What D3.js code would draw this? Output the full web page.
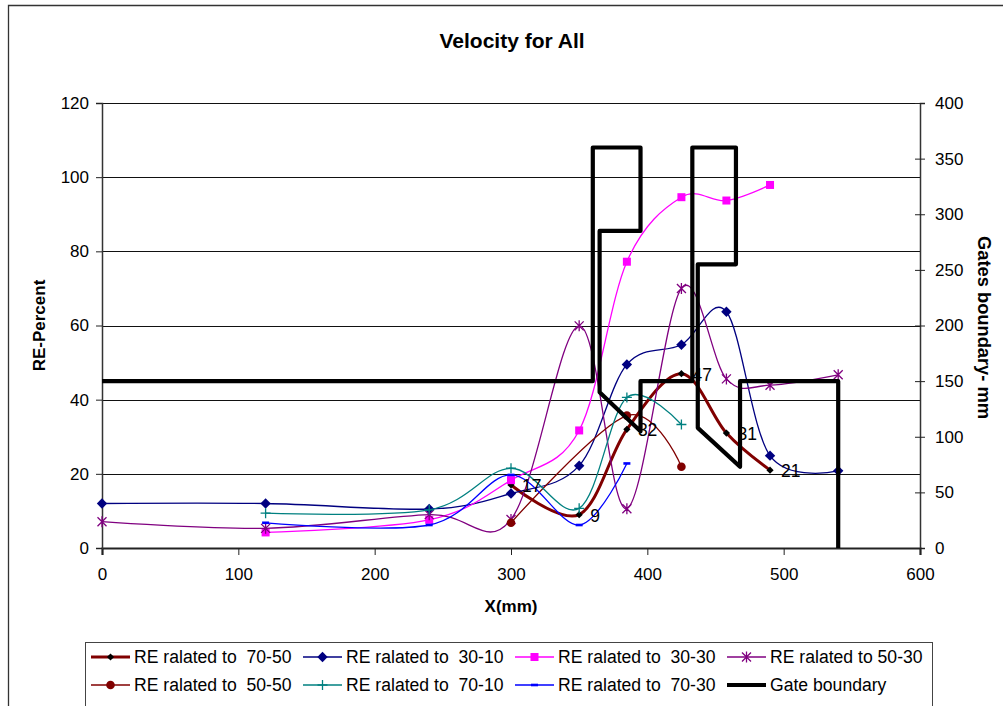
<!DOCTYPE html>
<html>
<head>
<meta charset="utf-8">
<script src="https://cdn.jsdelivr.net/npm/d3@7"></script>
<style>
  html, body { margin: 0; padding: 0; background: #fff; }
  svg { display: block; font-family: "Liberation Sans", Arial, sans-serif; }
  text { white-space: pre; }
</style>
</head>
<body>
<svg id="chart" width="1003" height="706"></svg>
<script>
// ---- data ----
const x7050 = [300, 350, 385, 425, 458, 490];
const re7050 = [17, 9, 32, 47, 31, 21];

const x3010 = [0, 120, 240, 300, 350, 385, 425, 458, 490, 540];
const re3010 = [12, 12, 10.5, 14.7, 22.2, 49.5, 54.8, 63.7, 24.9, 20.8];

const x3030 = [120, 240, 300, 350, 385, 425, 458, 490];
const re3030 = [4.2, 7.6, 18.3, 31.7, 77.2, 94.6, 93.7, 97.9];

const x5030 = [0, 120, 240, 300, 350, 385, 425, 458, 490, 540];
const re5030 = [7.1, 5.3, 9, 7.7, 59.9, 10.6, 70, 45.6, 43.9, 46.7];

const x5050 = [300, 385, 425];
const re5050 = [6.8, 35.7, 21.9];

const x7010 = [120, 240, 300, 350, 385, 425];
const re7010 = [9.4, 10.3, 21.5, 10.7, 40.6, 33.3];

const x7030 = [120, 240, 300, 350, 385];
const re7030 = [6.8, 6.2, 19.7, 6.2, 22.8];

// gate outline, secondary axis (mm)
const gateX = [0, 360, 360, 395, 395, 365, 365, 395, 395, 433, 433, 465, 465, 437, 437, 468, 468, 540, 540];
const gateY = [150, 150, 360, 360, 285, 285, 140, 105, 150, 150, 360, 360, 255, 255, 108, 73, 150, 150, 0];

const xTicks = [0, 100, 200, 300, 400, 500, 600];
const yTicks = [0, 20, 40, 60, 80, 100, 120];
const y2Ticks = [0, 50, 100, 150, 200, 250, 300, 350, 400];

const seriesNames = ["RE ralated to  70-50", "RE ralated to  30-10", "RE ralated to  30-30", "RE ralated to 50-30",
                     "RE ralated to  50-50", "RE ralated to  70-10", "RE ralated to  70-30", "Gate boundary"];

// ---- layout ----
const svg = d3.select("#chart");
const L = 102, R = 920, T = 103, B = 548;

const x = d3.scaleLinear().domain([0, 600]).range([L, R]);
const y = d3.scaleLinear().domain([0, 120]).range([B, T]);
const y2 = d3.scaleLinear().domain([0, 400]).range([B, T]);

// outer chart frame
svg.append("path").attr("d", "M8.5,706 L8.5,5.5 L1003,5.5")
  .attr("fill", "none").attr("stroke", "#333").attr("stroke-width", 1.3);

// title
svg.append("text").attr("x", 512).attr("y", 48).attr("text-anchor", "middle")
  .attr("font-size", 21).attr("font-weight", "bold").text("Velocity for All");

// gridlines
svg.append("g").selectAll("line").data(yTicks.filter(d => d > 0)).join("line")
  .attr("x1", L).attr("x2", R)
  .attr("y1", d => Math.round(y(d)) + 0.5).attr("y2", d => Math.round(y(d)) + 0.5)
  .attr("stroke", "#111").attr("stroke-width", 1);

// axes
const gx = svg.append("g").attr("transform", `translate(0,${B})`)
  .call(d3.axisBottom(x).tickValues(xTicks).tickSize(7).tickPadding(13));
const gy = svg.append("g").attr("transform", `translate(${L},0)`)
  .call(d3.axisLeft(y).tickValues(yTicks).tickSize(6).tickPadding(7));
const gy2 = svg.append("g").attr("transform", `translate(${R},0)`)
  .call(d3.axisRight(y2).tickValues(y2Ticks).tickSize(5).tickPadding(10));
gy2.selectAll(".tick line").attr("x1", -5);

[gx, gy, gy2].forEach(g => {
  g.selectAll("text").attr("font-size", 17).attr("font-family", "Liberation Sans, Arial, sans-serif").attr("fill", "#000");
  g.selectAll("line").attr("stroke", "#222");
  g.select(".domain").attr("stroke", "#333").attr("stroke-width", 1.5);
});
gx.select(".domain").attr("stroke", "#222").attr("stroke-width", 2.2);

// axis titles
svg.append("text").attr("x", 511).attr("y", 612).attr("text-anchor", "middle")
  .attr("font-size", 17).attr("font-weight", "bold").text("X(mm)");
svg.append("text").attr("transform", `translate(45,${(T + B) / 2}) rotate(-90)`)
  .attr("text-anchor", "middle").attr("font-size", 17).attr("font-weight", "bold").text("RE-Percent");
svg.append("text").attr("transform", `translate(978,${(T + B) / 2 + 2}) rotate(90)`)
  .attr("text-anchor", "middle").attr("font-size", 18.3).attr("font-weight", "bold").text("Gates boundary- mm");

// ---- marker painters ----
function diamondPath(cx, cy, r) {
  return `M${cx},${cy - r}L${cx + r},${cy}L${cx},${cy + r}L${cx - r},${cy}Z`;
}
function drawMarker(g, kind, cx, cy, color) {
  if (kind === "diamondSmall") {
    g.append("path").attr("d", diamondPath(cx, cy, 3.6)).attr("fill", "#000");
  } else if (kind === "diamond") {
    g.append("path").attr("d", diamondPath(cx, cy, 5.2)).attr("fill", color);
  } else if (kind === "square") {
    g.append("rect").attr("x", cx - 4).attr("y", cy - 4).attr("width", 8).attr("height", 8).attr("fill", color);
  } else if (kind === "circle") {
    g.append("circle").attr("cx", cx).attr("cy", cy).attr("r", 4.3).attr("fill", color);
  } else if (kind === "plus") {
    g.append("path").attr("d", `M${cx - 5},${cy}H${cx + 5}M${cx},${cy - 5}V${cy + 5}`).attr("stroke", color).attr("stroke-width", 1.3).attr("fill", "none");
  } else if (kind === "star") {
    g.append("path").attr("d", `M${cx - 4.5},${cy - 4.5}L${cx + 4.5},${cy + 4.5}M${cx - 4.5},${cy + 4.5}L${cx + 4.5},${cy - 4.5}M${cx},${cy - 5.5}V${cy + 5.5}`)
      .attr("stroke", color).attr("stroke-width", 1.3).attr("fill", "none");
  } else if (kind === "dash") {
    g.append("rect").attr("x", cx - 3.5).attr("y", cy - 1.3).attr("width", 7).attr("height", 2.6).attr("fill", color);
  }
}

const series = [
  { xs: x7050, ys: re7050, color: "#800000", width: 3, marker: "diamondSmall" },
  { xs: x3010, ys: re3010, color: "#000080", width: 1.3, marker: "diamond" },
  { xs: x3030, ys: re3030, color: "#FF00FF", width: 1.3, marker: "square" },
  { xs: x5030, ys: re5030, color: "#800080", width: 1.3, marker: "star" },
  { xs: x5050, ys: re5050, color: "#800000", width: 1.3, marker: "circle" },
  { xs: x7010, ys: re7010, color: "#008080", width: 1.3, marker: "plus" },
  { xs: x7030, ys: re7030, color: "#0000FF", width: 1.3, marker: "dash" }
];

const smooth = d3.line().x(d => x(d[0])).y(d => y(d[1])).curve(d3.curveCardinal.tension(0));

const plot = svg.append("g");
series.forEach(s => {
  const pts = s.xs.map((v, i) => [v, s.ys[i]]);
  plot.append("path").attr("d", smooth(pts)).attr("fill", "none")
    .attr("stroke", s.color).attr("stroke-width", s.width);
  const mg = plot.append("g");
  pts.forEach(p => drawMarker(mg, s.marker, x(p[0]), y(p[1]), s.color));
});

// value labels on the 70-50 series
plot.append("g").selectAll("text").data(x7050.map((v, i) => [v, re7050[i]])).join("text")
  .attr("x", d => x(d[0]) + 11).attr("y", d => y(d[1]) + 7)
  .attr("font-size", 17.5).attr("fill", "#000").text(d => d[1]);

// gate boundary (secondary axis)
const gateLine = d3.line().x(d => x(d[0])).y(d => y2(d[1]));
plot.append("path").attr("d", gateLine(gateX.map((v, i) => [v, gateY[i]])))
  .attr("fill", "none").attr("stroke", "#000").attr("stroke-width", 4.2)
  .attr("stroke-linejoin", "round");

// ---- legend ----
const lg = svg.append("g");
lg.append("rect").attr("x", 85.5).attr("y", 642.5).attr("width", 847).attr("height", 70)
  .attr("fill", "#fff").attr("stroke", "#444").attr("stroke-width", 1);

const colX = [91, 303, 515, 727];
const rowY = [657, 685];
const legendSpec = [
  { color: "#800000", width: 3, marker: "diamondSmall" },
  { color: "#000080", width: 1.3, marker: "diamond" },
  { color: "#FF00FF", width: 1.3, marker: "square" },
  { color: "#800080", width: 1.3, marker: "star" },
  { color: "#800000", width: 1.3, marker: "circle" },
  { color: "#008080", width: 1.3, marker: "plus" },
  { color: "#0000FF", width: 1.3, marker: "dash" },
  { color: "#000", width: 4.2, marker: null }
];
legendSpec.forEach((s, i) => {
  const cx = colX[i % 4], cy = rowY[Math.floor(i / 4)];
  lg.append("line").attr("x1", cx).attr("x2", cx + 39).attr("y1", cy).attr("y2", cy)
    .attr("stroke", s.color).attr("stroke-width", s.width);
  if (s.marker) drawMarker(lg, s.marker, cx + 19.5, cy, s.color);
  lg.append("text").attr("x", cx + 43).attr("y", cy + 6).attr("font-size", 17.6).attr("fill", "#000").text(seriesNames[i]);
});
</script>
</body>
</html>
